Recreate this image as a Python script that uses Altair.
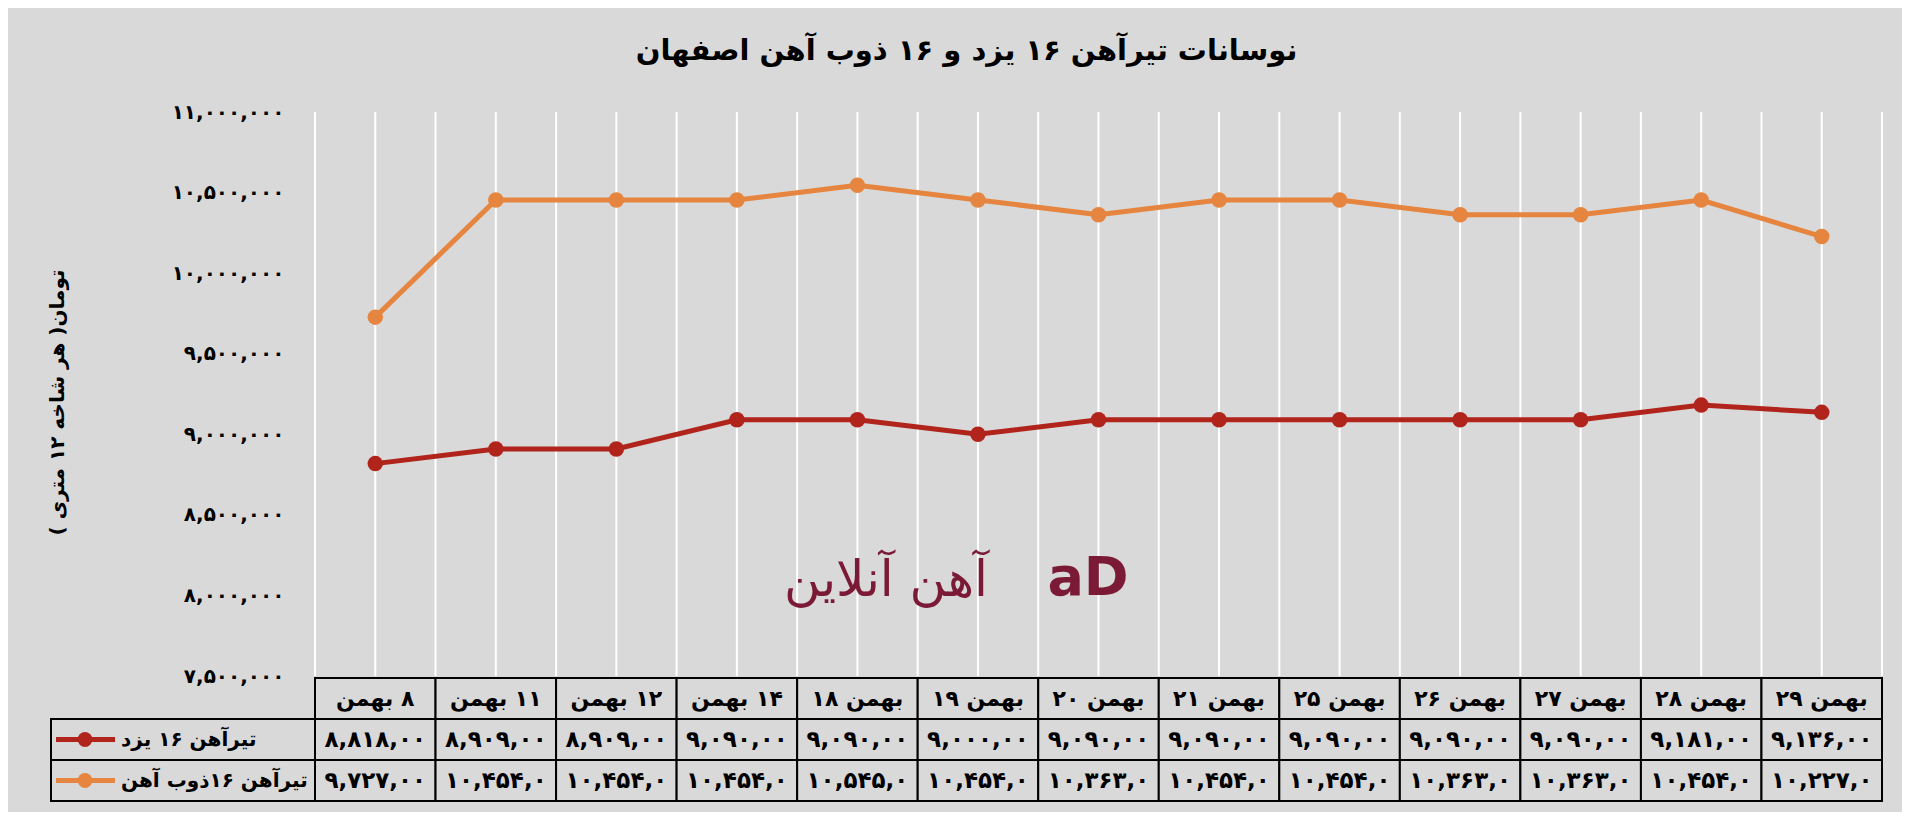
import altair as alt
import pandas as pd

# ---------------- data ----------------
# header labels as they read left-to-right in the reference
categories = ["۸ بهمن", "۱۱ بهمن", "۱۲ بهمن", "۱۴ بهمن", "بهمن ۱۸", "بهمن ۱۹", "بهمن ۲۰",
              "بهمن ۲۱", "بهمن ۲۵", "بهمن ۲۶", "بهمن ۲۷", "بهمن ۲۸", "بهمن ۲۹"]
yazd_prices = [8818000, 8909000, 8909000, 9090000, 9090000, 9000000, 9090000,
               9090000, 9090000, 9090000, 9090000, 9181000, 9136000]
zob_prices = [9727000, 10454000, 10454000, 10454000, 10545000, 10454000, 10363000,
              10454000, 10454000, 10363000, 10363000, 10454000, 10227000]
series_names = ["تیرآهن ۱۶ یزد", "تیرآهن ۱۶ذوب آهن"]
series_colors = ["#B0241B", "#E5853F"]
y_tick_values = [7500000, 8000000, 8500000, 9000000, 9500000, 10000000, 10500000, 11000000]

title_text = "نوسانات تیرآهن ۱۶ یزد و ۱۶ ذوب آهن اصفهان"
y_title = "تومان( هر شاخه ۱۲ متری )"
watermark = "آهن آنلاین"

FONT = "DejaVu Sans"
FA = str.maketrans("0123456789", "۰۱۲۳۴۵۶۷۸۹")
MONTH = "بهمن"


def fa_num(v):
    return f"{v:,}".translate(FA)


def header_text(label):
    # rebuild the label so that the browser shows it in the same visual order
    num = label.replace(MONTH, "").strip()
    if label.startswith(MONTH):          # number on the right
        return num + " " + MONTH
    return MONTH + "\u200e " + num       # number on the left


n = len(categories)
series_values = [yazd_prices, zob_prices]

rows = []
for s, vals in zip(series_names, series_values):
    for i, v in enumerate(vals):
        rows.append({"i": i, "series": s, "value": v})
lines_df = pd.DataFrame(rows)

grid_pos = [i - 0.5 for i in range(n)] + [i for i in range(n)] + [n - 0.5]
grid_df = pd.DataFrame({"pos": grid_pos})
grid_df["top"] = max(y_tick_values)
grid_df["bottom"] = min(y_tick_values)

head_cells, val_cells = [], []
for i, c in enumerate(categories):
    head_cells.append({"x1": i - 0.5, "x2": i + 0.5, "r1": 0, "r2": 1, "xc": i, "rc": 0.5,
                       "text": header_text(c)})
    for r, vals in enumerate(series_values, start=1):
        val_cells.append({"x1": i - 0.5, "x2": i + 0.5, "r1": r, "r2": r + 1, "xc": i,
                          "rc": r + 0.5, "text": fa_num(vals[i])[:8]})
head_df = pd.DataFrame(head_cells)
val_df = pd.DataFrame(val_cells)
cells_df = pd.concat([head_df, val_df], ignore_index=True)

legend_df = pd.DataFrame({"series": series_names, "r1": [1, 2], "r2": [2, 3], "rc": [1.5, 2.5]})

# ---------------- scales ----------------
xscale = alt.Scale(domain=[-0.5, n - 0.5], range=[264, 1831], nice=False, zero=False)
yscale = alt.Scale(domain=[min(y_tick_values), max(y_tick_values)], range=[564, 0],
                   nice=False, zero=False)
tscale = alt.Scale(domain=[0, 3], range=[566, 689], nice=False, zero=False)
cscale = alt.Scale(domain=series_names, range=series_colors)

yaxis = alt.Axis(values=y_tick_values, format=",d", grid=False, domain=False, ticks=False,
                 labelFont=FONT, labelFontWeight="bold", labelFontSize=20, labelColor="black",
                 labelPadding=31, offset=-264, title=y_title, titleFont=FONT,
                 titleFontWeight="bold", titleFontSize=20, titleColor="black",
                 titleX=-258, titleY=290, titleAngle=270, titleBaseline="middle",
                 titleAlign="center")

base_lines = alt.Chart(lines_df)

grid = alt.Chart(grid_df).mark_rule(color="white", strokeWidth=2).encode(
    x=alt.X("pos:Q", scale=xscale, axis=None),
    y=alt.Y("top:Q", scale=yscale, axis=yaxis),
    y2="bottom:Q",
)

line = base_lines.mark_line(strokeWidth=5).encode(
    x=alt.X("i:Q", scale=xscale, axis=None),
    y=alt.Y("value:Q", scale=yscale, axis=None),
    color=alt.Color("series:N", scale=cscale, legend=None),
    detail="series:N",
)
pts = base_lines.mark_point(filled=True, opacity=1, size=240, shape="circle").encode(
    x=alt.X("i:Q", scale=xscale, axis=None),
    y=alt.Y("value:Q", scale=yscale, axis=None),
    color=alt.Color("series:N", scale=cscale, legend=None),
)

cell_rects = alt.Chart(cells_df).mark_rect(fill="#d9d9d9", stroke="black", strokeWidth=2).encode(
    x=alt.X("x1:Q", scale=xscale, axis=None), x2="x2:Q",
    y=alt.Y("r1:Q", scale=tscale, axis=None), y2="r2:Q",
)
legend_rects = alt.Chart(legend_df).mark_rect(fill="#d9d9d9", stroke="black", strokeWidth=2).encode(
    x=alt.value(0), x2=alt.value(264),
    y=alt.Y("r1:Q", scale=tscale, axis=None), y2="r2:Q",
)
head_text = alt.Chart(head_df).mark_text(font=FONT, fontWeight="bold", fontSize=22,
                                         color="black", baseline="middle", align="center").encode(
    x=alt.X("xc:Q", scale=xscale, axis=None),
    y=alt.Y("rc:Q", scale=tscale, axis=None),
    text="text:N",
)
val_text = alt.Chart(val_df).mark_text(font=FONT, fontWeight="bold", fontSize=23,
                                       color="black", baseline="middle", align="center").encode(
    x=alt.X("xc:Q", scale=xscale, axis=None),
    y=alt.Y("rc:Q", scale=tscale, axis=None),
    text="text:N",
)
legend_line = alt.Chart(legend_df).mark_rule(strokeWidth=5).encode(
    x=alt.value(5), x2=alt.value(64),
    y=alt.Y("rc:Q", scale=tscale, axis=None),
    color=alt.Color("series:N", scale=cscale, legend=None),
)
legend_dot = alt.Chart(legend_df).mark_point(filled=True, opacity=1, size=220).encode(
    x=alt.value(34),
    y=alt.Y("rc:Q", scale=tscale, axis=None),
    color=alt.Color("series:N", scale=cscale, legend=None),
)
legend_text = alt.Chart(legend_df).mark_text(font=FONT, fontWeight="bold", fontSize=20,
                                             color="black", baseline="middle", align="left",
                                             dx=70).encode(
    x=alt.value(0),
    y=alt.Y("rc:Q", scale=tscale, axis=None),
    text="series:N",
)
wm_df = pd.DataFrame({"t": [watermark], "logo": ["aD"]})
wm_text = alt.Chart(wm_df).mark_text(font=FONT, fontSize=50, color="#7B1A37",
                                     baseline="middle", align="center").encode(
    x=alt.value(835), y=alt.value(469), text="t:N")
wm_logo = alt.Chart(wm_df).mark_text(font=FONT, fontWeight="bold", fontSize=54, color="#7B1A37",
                                     baseline="middle", align="center").encode(
    x=alt.value(1037), y=alt.value(467), text="logo:N")

chart = alt.layer(
    grid, wm_text, wm_logo, line, pts, cell_rects, legend_rects, head_text, val_text,
    legend_line, legend_dot, legend_text,
).resolve_scale(y="independent").properties(
    width=1831, height=689,
    autosize=alt.AutoSizeParams(type="none"),
    padding={"left": 43, "top": 104, "right": 20, "bottom": 11},
    title=alt.TitleParams(text=title_text, font=FONT, fontSize=29, fontWeight="bold",
                          color="black", anchor="middle", frame="group", baseline="middle",
                          offset=22),
).configure(
    background="#d9d9d9",
    locale={"number": {"decimal": ".", "thousands": ",", "grouping": [3],
                       "currency": ["", ""],
                       "numerals": ["۰", "۱", "۲", "۳", "۴", "۵", "۶", "۷", "۸", "۹"]}},
).configure_view(stroke=None)

chart.save("out.html", embed_options={"renderer": "svg", "actions": False})
